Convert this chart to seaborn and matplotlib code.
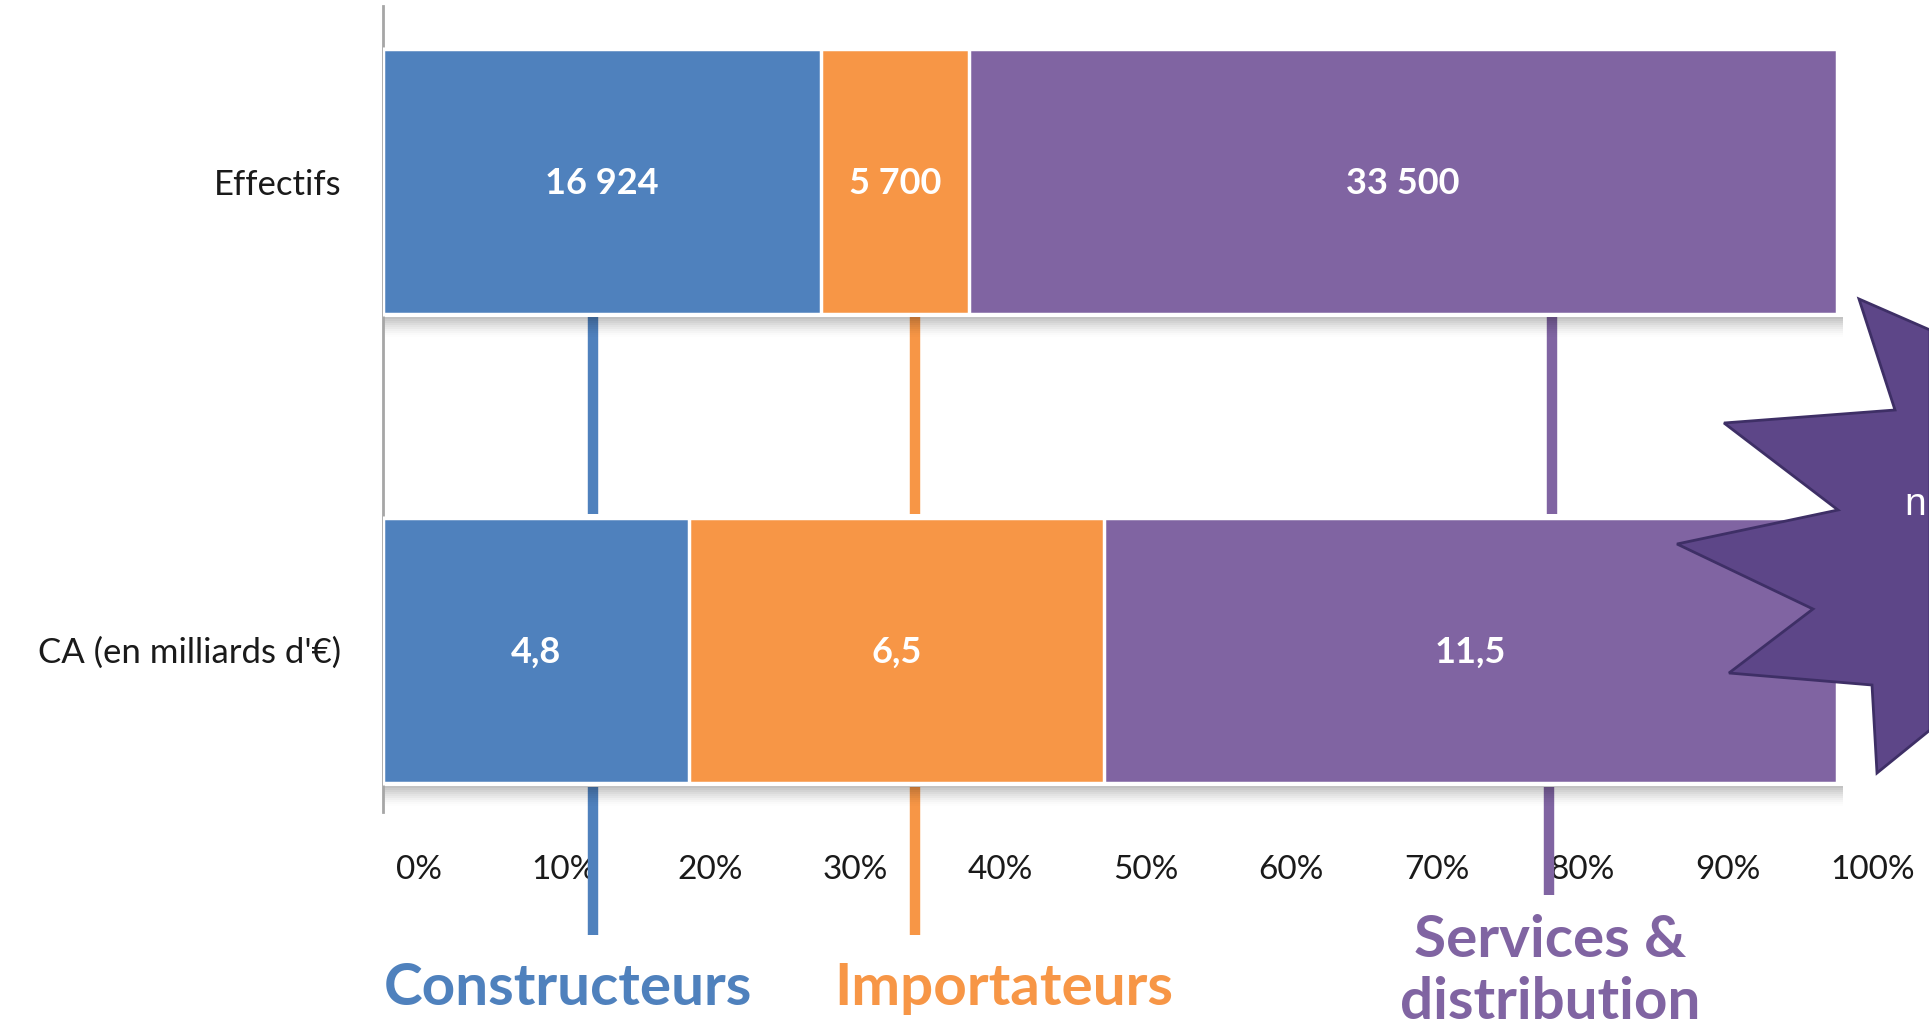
import numpy as np
import pandas as pd
import seaborn as sns
import matplotlib.pyplot as plt
from matplotlib.patches import Polygon, Rectangle
from matplotlib.transforms import ScaledTranslation

# --- data ---
categories = ["Effectifs", "CA (en milliards d'€)"]
segments = ["Constructeurs", "Importateurs", "Services & distribution"]
constructeurs = [16924, 4.8]
importateurs = [5700, 6.5]
services = [33500, 11.5]
value_labels = [["16 924", "5 700", "33 500"], ["4,8", "6,5", "11,5"]]
tick_values = np.arange(0, 1.01, 0.1)
tick_labels = [f"{int(round(t * 100))}%" for t in tick_values]

colors = {"Constructeurs": "#4F81BD", "Importateurs": "#F79646",
          "Services & distribution": "#8064A2"}

# 100% stacked -> shares and cumulative ends
vals = np.array([constructeurs, importateurs, services]).T  # rows = categories
shares = vals / vals.sum(axis=1, keepdims=True)
cum = shares.cumsum(axis=1)

rows = []
for i, cat in enumerate(categories):
    for j, seg in enumerate(segments):
        rows.append({"cat": cat, "segment": seg, "end": cum[i, j]})
df = pd.DataFrame(rows)

W, H = 1929, 1035
sns.set_theme(style="white")
plt.rcParams['font.family'] = ['Lato', 'DejaVu Sans']

fig = plt.figure(figsize=(W / 100, H / 100), dpi=100)
ax = fig.add_axes([383 / W, 1 - 812 / H, (1837 - 383) / W, (812 - 6) / H])

bar_h = 0.566
# overlay cumulative bars, widest first, gives the stacked look
sns.barplot(data=df, x="end", y="cat", hue="segment",
            hue_order=segments[::-1], palette=colors, dodge=False,
            saturation=1, width=bar_h, orient="h", edgecolor="white",
            linewidth=2.5, legend=False, ax=ax, zorder=3)

ax.set_xlim(0, 1)
ax.set_ylim(-0.3746 + 1.72, -0.3746)

# shadow under each bar
px = 1 / 468.5
for i in range(len(categories)):
    y0 = i + bar_h / 2 + 3 * px
    for k in range(10):
        ax.add_patch(Rectangle((0, y0 + k * 2 * px), 1.004, 2 * px,
                               facecolor="black", alpha=0.24 * (1 - k / 10) ** 1.5,
                               linewidth=0, zorder=2, clip_on=False))

# value labels in the middle of each segment
for i in range(len(categories)):
    for j in range(len(segments)):
        mid = cum[i, j] - shares[i, j] / 2
        ax.text(mid, i + 0.005, value_labels[i][j], ha="center", va="center",
                color="white", fontsize=26, fontweight="bold", zorder=5)

# connectors (decorative guide lines)
connector_x = [(0.1444, 0.1444), (0.366, 0.366), (0.804, 0.802)]
connector_bottom = [935, 935, 895]
for j, seg in enumerate(segments):
    xa, xb = connector_x[j]
    ax.plot([xa, xa], [(317 - 6) / 468.5 - 0.3746, (514 - 6) / 468.5 - 0.3746],
            color=colors[seg], lw=7.5, solid_capstyle="butt", zorder=1)
    ax.plot([xb, xb], [(787 - 6) / 468.5 - 0.3746,
                       (connector_bottom[j] - 6) / 468.5 - 0.3746],
            color=colors[seg], lw=7.5, solid_capstyle="butt", zorder=1,
            clip_on=False)

# axes styling
ax.set_xticks(tick_values)
ax.set_xticklabels(tick_labels, fontsize=24, color="#1a1a1a")
ax.tick_params(axis="x", length=0, pad=31)
for lab in ax.get_xticklabels():
    lab.set_transform(lab.get_transform() + ScaledTranslation(0.36, 0, fig.dpi_scale_trans))
ax.tick_params(axis="y", length=0, pad=30, labelsize=25, labelcolor="#1a1a1a")
ax.set_xlabel("")
ax.set_ylabel("")
for s in ["top", "right", "bottom"]:
    ax.spines[s].set_visible(False)
ax.spines["left"].set_color("#A6A6A6")
ax.spines["left"].set_linewidth(2)

# segment names under the chart (baseline positioned)
name_kw = dict(fontsize=42, fontweight="bold", ha="center", va="baseline")
fig.text(568 / W, 1 - 1005 / H, "Constructeurs", color=colors["Constructeurs"], **name_kw)
fig.text(1004 / W, 1 - 1005 / H, "Importateurs", color=colors["Importateurs"], **name_kw)
fig.text(1550 / W, 1 - 957 / H, "Services &",
         color=colors["Services & distribution"], **name_kw)
fig.text(1550 / W, 1 - 1019 / H, "distribution",
         color=colors["Services & distribution"], **name_kw)

# burst shape on the right edge
star = [(1859, 299), (1930, 330), (1930, 730), (1877, 773), (1872, 685),
        (1729, 673), (1813, 609), (1677, 544), (1838, 510), (1724, 423),
        (1895, 410)]
star_f = [(x / W, 1 - y / H) for x, y in star]
fig.patches.append(Polygon(star_f, closed=True, facecolor="#5D4688",
                           edgecolor="#3E2F66", linewidth=2,
                           transform=fig.transFigure, zorder=10))
fig.text(1926 / W, 1 - 505 / H, "n", color="white", fontsize=28,
         ha="right", va="center", family=["Liberation Sans", "DejaVu Sans"],
         zorder=11)

fig.savefig("out.png", dpi=100)
